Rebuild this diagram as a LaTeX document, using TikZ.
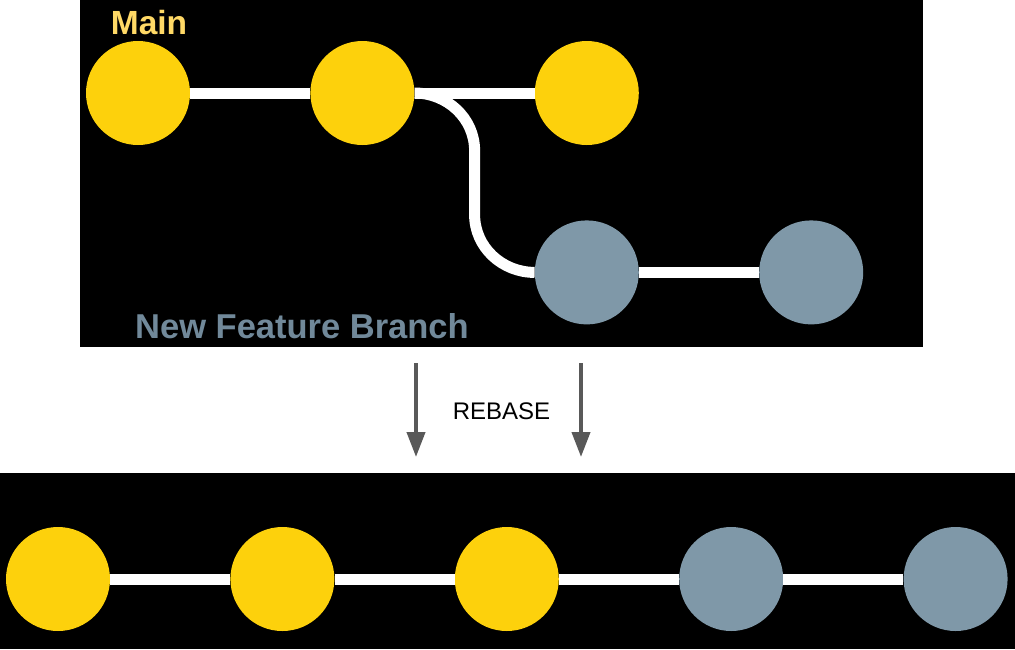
\documentclass[tikz,border=0pt]{standalone}
\usepackage{fontspec}
\setmainfont{Liberation Sans}
\usepackage{xcolor}
\usetikzlibrary{positioning,arrows.meta,calc}

\definecolor{commityellow}{HTML}{FDD10C}
\definecolor{mainlabel}{HTML}{FFD966}
\definecolor{commitgrey}{HTML}{7F98A8}
\definecolor{featlabel}{HTML}{71899A}
\definecolor{arrowgrey}{HTML}{595959}

\begin{document}
\begin{tikzpicture}[
  x=1pt, y=-1pt, node distance=120pt,
  mainnode/.style={circle, fill=commityellow, inner sep=0pt, minimum size=104pt},
  featnode/.style={circle, fill=commitgrey, inner sep=0pt, minimum size=104pt},
  link/.style={white, line width=11pt},
  rebasearrow/.style={arrowgrey, line width=4pt, -{Triangle[width=18pt,length=25pt]}}
]
\useasboundingbox (0,0) rectangle (1015,649);

%Panels
\fill[black] (80,0) rectangle (923,347);
\fill[black] (0,473) rectangle (1015,649);

%Nodes before rebase
\node[mainnode] (m1) at (138,93) {};
\node[mainnode, right=of m1] (m2) {};
\node[mainnode, right=of m2] (m3) {};
\node[featnode, below=75pt of m3] (f1) {};
\node[featnode, right=of f1] (f2) {};

\node[anchor=base, text=mainlabel, font=\bfseries\fontsize{33.5}{40}\selectfont, inner sep=0pt] (mainlbl) at (149,34) {Main};
\node[anchor=base, text=featlabel, font=\bfseries\fontsize{34.5}{40}\selectfont, inner sep=0pt] (featlbl) at (302,338) {New Feature Branch};

%Links before rebase
\coordinate (bendtop) at ($(m2.east)!.5!(f1.west)+(0,-32)$);
\coordinate (bendbot) at ($(m2.east)!.5!(f1.west)+(0,32)$);
\draw[link] (m1.east) -- (m2.west);
\draw[link] (m2.east) -- (m3.west);
\draw[link] (m2.east) to[out=0,in=90] (bendtop) -- (bendbot) to[out=-90,in=180] (f1.west);
\draw[link] (f1.east) -- (f2.west);

%Rebase arrows
\coordinate (lefttop) at (416,363);
\coordinate (leftbot) at (416,457);
\coordinate (righttop) at (581,363);
\coordinate (rightbot) at (581,457);
\draw[rebasearrow] (lefttop) -- (leftbot);
\draw[rebasearrow] (righttop) -- (rightbot);
\node[anchor=base, font=\fontsize{24}{28}\selectfont, inner sep=0pt] (rebase) at (501.5,419) {REBASE};

%Nodes after rebase
\node[mainnode] (b1) at (58,579) {};
\node[mainnode, right=of b1] (b2) {};
\node[mainnode, right=of b2] (b3) {};
\node[featnode, right=of b3] (b4) {};
\node[featnode, right=of b4] (b5) {};

%Links after rebase
\draw[link] (b1.east) -- (b2.west);
\draw[link] (b2.east) -- (b3.west);
\draw[link] (b3.east) -- (b4.west);
\draw[link] (b4.east) -- (b5.west);
\end{tikzpicture}
\end{document}
